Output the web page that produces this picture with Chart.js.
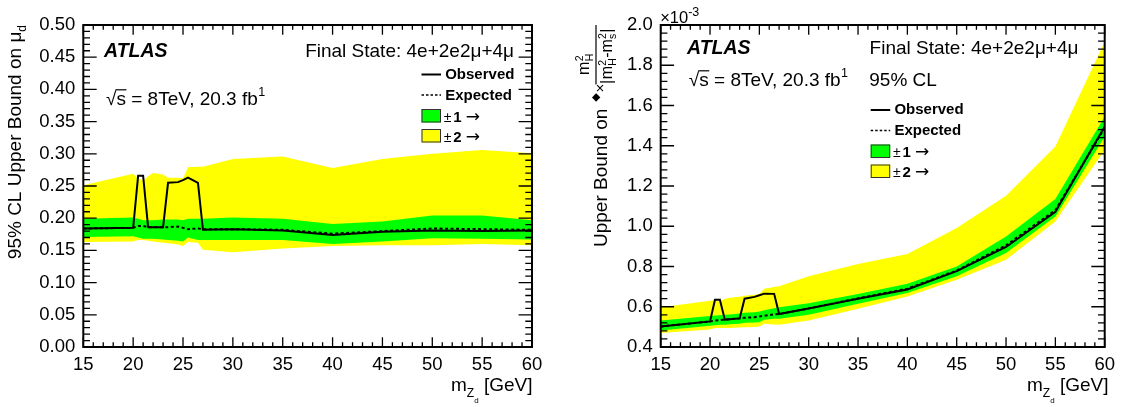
<!DOCTYPE html>
<html><head><meta charset="utf-8">
<script src="https://cdn.jsdelivr.net/npm/chart.js@4.4.1/dist/chart.umd.min.js"></script>
<style>
html,body{margin:0;padding:0;background:#fff;}
#wrap{position:relative;width:1122px;height:407px;overflow:hidden;background:#fff;}
canvas{position:absolute;top:0;}
#c1{left:0;} #c2{left:561px;}
</style></head><body>
<div id="wrap"><canvas id="c1" width="561" height="407"></canvas><canvas id="c2" width="561" height="407"></canvas></div>
<script>
// ---------- data ----------
const massPoints = [15, 20, 20.5, 21, 21.5, 22, 23, 23.5, 24.5, 25, 25.5, 26.5, 27, 30, 35, 40, 45, 50, 55, 60];

// left panel: 95% CL upper bound on mu_d
const muObserved = [0.184, 0.185, 0.266, 0.266, 0.186, 0.186, 0.186, 0.255, 0.256, 0.259, 0.263, 0.255, 0.182, 0.183, 0.181, 0.174, 0.179, 0.181, 0.180, 0.181];
const muExpected = [0.184, 0.185, 0.188, 0.188, 0.186, 0.186, 0.186, 0.186, 0.187, 0.185, 0.183, 0.184, 0.183, 0.183, 0.182, 0.176, 0.180, 0.184, 0.183, 0.182];
const muOneSigmaUp = [0.199, 0.201, 0.199, 0.197, 0.197, 0.197, 0.198, 0.198, 0.198, 0.197, 0.199, 0.199, 0.199, 0.201, 0.199, 0.191, 0.195, 0.204, 0.204, 0.197];
const muOneSigmaDn = [0.171, 0.172, 0.170, 0.168, 0.168, 0.168, 0.167, 0.166, 0.165, 0.164, 0.170, 0.166, 0.166, 0.166, 0.166, 0.160, 0.164, 0.169, 0.168, 0.167];
const muTwoSigmaUp = [0.251, 0.269, 0.262, 0.258, 0.265, 0.270, 0.268, 0.263, 0.263, 0.262, 0.279, 0.280, 0.280, 0.292, 0.296, 0.278, 0.292, 0.300, 0.306, 0.301];
const muTwoSigmaDn = [0.163, 0.164, 0.166, 0.166, 0.165, 0.164, 0.162, 0.161, 0.159, 0.157, 0.163, 0.162, 0.151, 0.147, 0.153, 0.157, 0.158, 0.158, 0.160, 0.158];

// right panel: upper bound on delta^2 x mH^2/|mH^2-ms^2| (units of 1e-3)
const kObserved = [0.502, 0.527, 0.635, 0.635, 0.536, 0.538, 0.542, 0.640, 0.649, 0.657, 0.665, 0.664, 0.564, 0.591, 0.640, 0.686, 0.777, 0.897, 1.072, 1.496];
const kExpected = [0.502, 0.527, 0.532, 0.534, 0.536, 0.538, 0.542, 0.545, 0.548, 0.552, 0.555, 0.562, 0.564, 0.592, 0.642, 0.690, 0.780, 0.905, 1.080, 1.490];
const kOneSigmaUp = [0.532, 0.554, 0.556, 0.558, 0.560, 0.562, 0.566, 0.570, 0.573, 0.577, 0.583, 0.593, 0.597, 0.618, 0.663, 0.714, 0.800, 0.949, 1.135, 1.545];
const kOneSigmaDn = [0.482, 0.505, 0.508, 0.510, 0.511, 0.513, 0.516, 0.520, 0.522, 0.523, 0.535, 0.540, 0.540, 0.560, 0.615, 0.668, 0.751, 0.867, 1.048, 1.446];
const kTwoSigmaUp = [0.597, 0.630, 0.632, 0.625, 0.640, 0.645, 0.650, 0.655, 0.660, 0.665, 0.690, 0.698, 0.702, 0.751, 0.812, 0.862, 0.991, 1.151, 1.396, 1.917];
const kTwoSigmaDn = [0.470, 0.487, 0.494, 0.495, 0.494, 0.494, 0.497, 0.498, 0.500, 0.502, 0.515, 0.512, 0.510, 0.532, 0.590, 0.651, 0.734, 0.834, 1.024, 1.380];

// ticks
const xTickValues = [15, 20, 25, 30, 35, 40, 45, 50, 55, 60];
const xTickLabels = ['15', '20', '25', '30', '35', '40', '45', '50', '55', '60'];
const muTickValues = [0, 0.05, 0.10, 0.15, 0.20, 0.25, 0.30, 0.35, 0.40, 0.45, 0.50];
const muTickLabels = ['0.00', '0.05', '0.10', '0.15', '0.20', '0.25', '0.30', '0.35', '0.40', '0.45', '0.50'];
const kTickValues = [0.4, 0.6, 0.8, 1.0, 1.2, 1.4, 1.6, 1.8, 2.0];
const kTickLabels = ['0.4', '0.6', '0.8', '1.0', '1.2', '1.4', '1.6', '1.8', '2.0'];

// ---------- helpers ----------
const FAM = "'Liberation Sans', Arial, 'DejaVu Sans', sans-serif";
const DJV = "'DejaVu Sans', sans-serif";
const fnt = (size, w = '', s = '', fam = FAM) => `${s} ${w} ${size}px ${fam}`.trim();
const YELLOW = '#ffff00', GREEN = '#00ff00';

function pts(ys) { return massPoints.map((m, i) => ({ x: m, y: ys[i] })); }

function rich(ctx, x, y, parts, align) {
  let w = 0; const ws = [];
  const f = p => fnt(p.size, p.w || '', p.s || '', p.fam || FAM);
  for (const p of parts) { ctx.font = f(p); const pw = ctx.measureText(p.t).width; ws.push(pw); w += pw + (p.gap || 0); }
  let cx = align === 'right' ? x - w : x;
  ctx.textAlign = 'left'; ctx.textBaseline = 'alphabetic';
  parts.forEach((p, i) => { ctx.font = f(p); ctx.fillText(p.t, cx, y + (p.dy || 0)); cx += ws[i] + (p.gap || 0); });
  return w;
}

function sqrtText(ctx, x, y, size, rest, sup) {
  ctx.textAlign = 'left'; ctx.textBaseline = 'alphabetic';
  ctx.font = fnt(size);
  ctx.fillText('√', x, y);
  let cx = x + ctx.measureText('√').width;
  const wsx = ctx.measureText('s').width;
  ctx.fillText('s', cx, y);
  ctx.beginPath(); ctx.lineWidth = 1.2; ctx.strokeStyle = '#000';
  ctx.moveTo(cx - 1, y - size * 0.80); ctx.lineTo(cx + wsx + 0.5, y - size * 0.80); ctx.stroke();
  cx += wsx;
  ctx.fillText(rest, cx, y); cx += ctx.measureText(rest).width;
  ctx.font = fnt(size * 0.66); ctx.fillText(sup, cx + 0.5, y - size * 0.45);
}

function legend(ctx, x0, yTop) {
  // yTop: baseline of "Observed"
  const lx = x0, lw = 19.5, tx = x0 + 23.7;
  ctx.strokeStyle = '#000'; ctx.fillStyle = '#000';
  ctx.lineWidth = 2; ctx.setLineDash([]);
  ctx.beginPath(); ctx.moveTo(lx, yTop - 4); ctx.lineTo(lx + lw, yTop - 4); ctx.stroke();
  rich(ctx, tx, yTop, [{ t: 'Observed', size: 15, w: 'bold' }]);
  ctx.lineWidth = 1.5; ctx.setLineDash([2.5, 2]);
  ctx.beginPath(); ctx.moveTo(lx, yTop + 16.5); ctx.lineTo(lx + lw, yTop + 16.5); ctx.stroke();
  ctx.setLineDash([]);
  rich(ctx, tx, yTop + 21, [{ t: 'Expected', size: 15, w: 'bold' }]);
  const boxes = [[GREEN, '1', yTop + 30.5], [YELLOW, '2', yTop + 50.5]];
  for (const [c, n, by] of boxes) {
    ctx.fillStyle = c; ctx.fillRect(lx, by, lw, 13.5);
    ctx.lineWidth = 1; ctx.strokeStyle = '#333'; ctx.strokeRect(lx + 0.5, by + 0.5, lw - 1, 12.5);
    ctx.fillStyle = '#000';
    const bl = by + 12.5;
    ctx.textAlign = 'left'; ctx.textBaseline = 'alphabetic';
    ctx.font = fnt(14); ctx.fillText('±', tx - 1.5, bl);
    ctx.font = fnt(15, 'bold'); ctx.fillText(n, tx + 8, bl);
    ctx.font = fnt(17, '', '', DJV); ctx.fillText('→', tx + 20.5, bl);
  }
}

function xTitle(ctx, xr, y) {
  rich(ctx, xr, y, [
    { t: 'm', size: 19 }, { t: 'Z', size: 12, dy: 6 }, { t: 'd', size: 8, dy: 11.5 }, { t: ' [GeV]', size: 19 }
  ], 'right');
}

function frameAndTicks(chart, yMinorStep, yMajorEvery) {
  const { ctx, chartArea: a, scales: { x, y } } = chart;
  ctx.save();
  ctx.strokeStyle = '#000'; ctx.setLineDash([]);
  ctx.lineWidth = 1.3;
  ctx.beginPath();
  for (let v = 15; v <= 60; v++) {
    const px = x.getPixelForValue(v);
    const len = (v % 5 === 0) ? 9.7 : 4.8;
    ctx.moveTo(px, a.bottom); ctx.lineTo(px, a.bottom - len);
    ctx.moveTo(px, a.top); ctx.lineTo(px, a.top + len);
  }
  const n = Math.round((y.max - y.min) / yMinorStep);
  for (let i = 0; i <= n; i++) {
    const py = y.getPixelForValue(y.min + i * yMinorStep);
    const len = (i % yMajorEvery === 0) ? 13.4 : 6.7;
    ctx.moveTo(a.left, py); ctx.lineTo(a.left + len, py);
    ctx.moveTo(a.right, py); ctx.lineTo(a.right - len, py);
  }
  ctx.stroke();
  ctx.lineWidth = 2;
  ctx.strokeRect(a.left, a.top, a.right - a.left, a.bottom - a.top);
  ctx.restore();
}

function makeDatasets(obs, exp, g1, g2, y1, y2) {
  const clear = 'rgba(0,0,0,0)';
  return [
    { label: 'Observed', data: pts(obs), borderColor: '#000', borderWidth: 2, pointRadius: 0, fill: false, order: 0 },
    { label: 'Expected', data: pts(exp), borderColor: '#000', borderWidth: 2, borderDash: [3, 2.5], pointRadius: 0, fill: false, order: 1 },
    { label: '±1σ up', data: pts(g1), borderColor: clear, borderWidth: 1, backgroundColor: GREEN, pointRadius: 0, fill: '+1', order: 2 },
    { label: '±1σ dn', data: pts(g2), borderColor: clear, borderWidth: 1, pointRadius: 0, fill: false, order: 3 },
    { label: '±2σ up', data: pts(y1), borderColor: clear, borderWidth: 1, backgroundColor: YELLOW, pointRadius: 0, fill: '+1', order: 4 },
    { label: '±2σ dn', data: pts(y2), borderColor: clear, borderWidth: 1, pointRadius: 0, fill: false, order: 5 }
  ];
}

function baseOptions(yMin, yMax, yVals, yLabels, yWidth, padRight) {
  return {
    responsive: false, animation: false, events: [],
    layout: { padding: { left: 0, right: padRight, top: 25, bottom: 0 } },
    plugins: { legend: { display: false }, tooltip: { enabled: false } },
    scales: {
      x: {
        type: 'linear', position: 'bottom', min: 15, max: 60,
        grid: { display: false, drawTicks: false }, border: { display: false },
        afterBuildTicks: s => { s.ticks = xTickValues.map(v => ({ value: v })); },
        afterFit: s => { s.height = 60; },
        ticks: { autoSkip: false, maxRotation: 0, padding: 7, color: '#000', font: { family: FAM, size: 18.5 },
          callback: (v, i) => xTickLabels[i] }
      },
      y: {
        type: 'linear', position: 'left', min: yMin, max: yMax,
        grid: { display: false, drawTicks: false }, border: { display: false },
        afterBuildTicks: s => { s.ticks = yVals.map(v => ({ value: v })); },
        afterFit: s => { s.width = yWidth; },
        ticks: { autoSkip: false, padding: 8, color: '#000', font: { family: FAM, size: 18.5 },
          callback: (v, i) => yLabels[i] }
      }
    }
  };
}

// ---------- left chart ----------
new Chart(document.getElementById('c1'), {
  type: 'line',
  data: { datasets: makeDatasets(muObserved, muExpected, muOneSigmaUp, muOneSigmaDn, muTwoSigmaUp, muTwoSigmaDn) },
  options: baseOptions(0, 0.5, muTickValues, muTickLabels, 83.3, 29),
  plugins: [{
    id: 'decor1',
    afterDraw(chart) {
      const ctx = chart.ctx;
      frameAndTicks(chart, 0.01, 5);
      ctx.save(); ctx.fillStyle = '#000';
      rich(ctx, 104, 57, [{ t: 'ATLAS', size: 19.5, w: 'bold', s: 'italic' }]);
      rich(ctx, 514, 57, [{ t: 'Final State: 4e+2e2μ+4μ', size: 19 }], 'right');
      sqrtText(ctx, 106, 105, 19, ' = 8TeV, 20.3 fb', '1');
      legend(ctx, 421.5, 78.5);
      xTitle(ctx, 532.5, 391);
      // y title
      ctx.save(); ctx.translate(20.5, 0); ctx.rotate(-Math.PI / 2);
      rich(ctx, -25, 0, [{ t: '95% CL Upper Bound on μ', size: 19 }, { t: 'd', size: 12, dy: 5 }], 'right');
      ctx.restore();
      ctx.restore();
    }
  }]
});

// ---------- right chart ----------
new Chart(document.getElementById('c2'), {
  type: 'line',
  data: { datasets: makeDatasets(kObserved, kExpected, kOneSigmaUp, kOneSigmaDn, kTwoSigmaUp, kTwoSigmaDn) },
  options: baseOptions(0.4, 2.0, kTickValues, kTickLabels, 99.7, 14),
  plugins: [{
    id: 'decor2',
    afterDraw(chart) {
      const ctx = chart.ctx;
      frameAndTicks(chart, 0.04, 5);
      ctx.save(); ctx.fillStyle = '#000';
      rich(ctx, 99.2, 23, [{ t: '×10', size: 16.5 }, { t: '-3', size: 12.5, dy: -7 }]);
      rich(ctx, 126, 54, [{ t: 'ATLAS', size: 19.5, w: 'bold', s: 'italic' }]);
      rich(ctx, 308.6, 54, [{ t: 'Final State: 4e+2e2μ+4μ', size: 19 }]);
      sqrtText(ctx, 127.8, 86, 19, ' = 8TeV, 20.3 fb', '1');
      rich(ctx, 308.3, 86, [{ t: '95% CL', size: 19 }]);
      legend(ctx, 309.7, 114);
      xTitle(ctx, 547.5, 391);
      // y title (rotated)
      ctx.save(); ctx.translate(46, 247); ctx.rotate(-Math.PI / 2);
      ctx.fillStyle = '#000';
      rich(ctx, 0, 0, [{ t: 'Upper Bound on', size: 19 }]);
      ctx.textAlign = 'center'; ctx.textBaseline = 'middle';
      ctx.font = fnt(11, '', '', DJV);
      ctx.fillText('◆', 149.5, -11);
      ctx.font = fnt(15);
      ctx.fillText('×', 159, -6);
      ctx.textAlign = 'left'; ctx.textBaseline = 'alphabetic';
      // fraction bar
      ctx.strokeStyle = '#000'; ctx.lineWidth = 1.2;
      ctx.beginPath(); ctx.moveTo(162.5, -11); ctx.lineTo(222, -11); ctx.stroke();
      // numerator m^2_H
      ctx.font = fnt(16); ctx.fillText('m', 172, -18);
      let mw = ctx.measureText('m').width;
      ctx.font = fnt(10.5); ctx.fillText('2', 172 + mw + 0.5, -24.5); ctx.fillText('H', 172 + mw + 0.5, -14);
      // denominator |m^2_H - m^2_s|
      let u = 163;
      ctx.font = fnt(16); ctx.fillText('|', u, 5); u += ctx.measureText('|').width + 0.5;
      ctx.fillText('m', u, 5); u += ctx.measureText('m').width + 0.3;
      ctx.font = fnt(10.5); ctx.fillText('2', u, -1.5); ctx.fillText('H', u, 9); u += ctx.measureText('H').width + 0.3;
      ctx.font = fnt(16); ctx.fillText('-', u, 5); u += ctx.measureText('-').width;
      ctx.fillText('m', u, 5); u += ctx.measureText('m').width + 0.3;
      ctx.font = fnt(10.5); ctx.fillText('2', u, -1.5); ctx.fillText('s', u, 9); u += ctx.measureText('2').width + 0.3;
      ctx.font = fnt(16); ctx.fillText('|', u, 5);
      ctx.restore();
      ctx.restore();
    }
  }]
});
</script>
</body></html>
